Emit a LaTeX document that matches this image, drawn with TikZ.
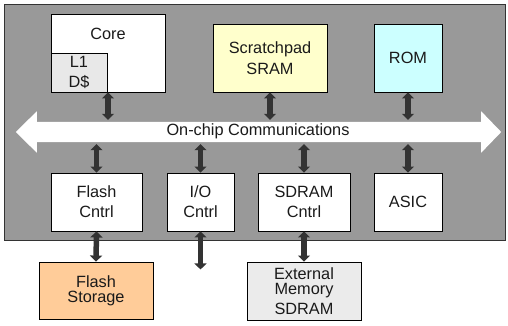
\documentclass[tikz,border=0pt]{standalone}
\usepackage{fontspec}
\setmainfont{Liberation Sans}
\usetikzlibrary{arrows.meta}
\definecolor{chipgray}{HTML}{999999}
\definecolor{padyellow}{HTML}{FFFFCC}
\definecolor{romcyan}{HTML}{CCFFFF}
\definecolor{flashpeach}{HTML}{FFCC99}
\definecolor{cachegray}{HTML}{E8E8E8}
\definecolor{extgray}{HTML}{EBEBEB}
\definecolor{linkgray}{HTML}{333333}
\definecolor{inkgray}{HTML}{1A1A1A}
\begin{document}
\begin{tikzpicture}[x=1pt,y=-1pt,
  every node/.style={font=\fontsize{16.3}{20}\selectfont, text=inkgray, inner sep=0pt},
  box/.style={draw=black, line width=0.9pt, fill=white, align=center},
  link/.style={draw=linkgray, line width=5.5pt, {Triangle[width=12pt,length=6pt]}-{Triangle[width=12pt,length=6pt]}}
]
\useasboundingbox (0,0) rectangle (508,325);

% chip die
\draw[fill=chipgray, draw=black!80, line width=0.9pt] (4,4) rectangle (505,240);

% on-chip bus
\path (259,132) node[minimum width=444pt, minimum height=20pt] (bus) {};
\fill[white]
  ([xshift=-21pt]bus.west)
  -- ([yshift=10.5pt]bus.north west) -- (bus.north west)
  -- (bus.north east) -- ([yshift=10.5pt]bus.north east)
  -- ([xshift=20pt]bus.east)
  -- ([yshift=-10.5pt]bus.south east) -- (bus.south east)
  -- (bus.south west) -- ([yshift=-10.5pt]bus.south west) -- cycle;
\node (buslabel) at (258,131) {On-chip Communications};

% upper blocks
\node[box, minimum width=114pt, minimum height=78pt] (core) at (108,53) {};
\node (corelabel) at (108,33.5) {Core};
\node[box, fill=cachegray, minimum width=56pt, minimum height=39pt] (l1) at (79,72.5) {L1\\D\$};
\node[box, fill=padyellow, minimum width=114pt, minimum height=68pt] (pad) at (270,58) {Scratchpad\\[1pt]SRAM};
\node[box, fill=romcyan, minimum width=68pt, minimum height=68pt] (rom) at (408,58) {ROM};

% lower blocks
\node[box, minimum width=91pt, minimum height=58pt] (flashc) at (96.5,202) {Flash\\Cntrl};
\node[box, minimum width=67pt, minimum height=58pt] (ioc) at (200.5,202) {I/O\\Cntrl};
\node[box, minimum width=92pt, minimum height=58pt] (sdramc) at (304,202) {SDRAM\\Cntrl};
\node[box, minimum width=68pt, minimum height=58pt] (asic) at (408,202) {ASIC};

% off-chip parts
\node[box, fill=flashpeach, minimum width=114pt, minimum height=57pt,
      font=\fontsize{16.3}{15}\selectfont] (flashs) at (96,290.5) {Flash\\Storage};
\node[box, fill=extgray, minimum width=114pt, minimum height=58pt,
      font=\fontsize{16.3}{15}\selectfont] (extmem) at (304,291) {External\\Memory\\[5pt]SDRAM};

% bus taps
\coordinate (iofree) at ([yshift=-38pt]ioc.south);
\draw[link] (core.south) -- ([yshift=2pt]core.south |- bus.north);
\draw[link] (pad.south) -- ([yshift=2pt]pad.south |- bus.north);
\draw[link] (rom.south) -- ([yshift=2pt]rom.south |- bus.north);
\draw[link] (flashc.north) -- ([yshift=-2pt]flashc.north |- bus.south);
\draw[link] (ioc.north) -- ([yshift=-2pt]ioc.north |- bus.south);
\draw[link] (sdramc.north) -- ([yshift=-2pt]sdramc.north |- bus.south);
\draw[link] (asic.north) -- ([yshift=-2pt]asic.north |- bus.south);

% off-chip links
\draw[link] (flashc.south) -- (flashs.north);
\draw[link] (ioc.south) -- (iofree);
\draw[link] (sdramc.south) -- (extmem.north);
\end{tikzpicture}
\end{document}
